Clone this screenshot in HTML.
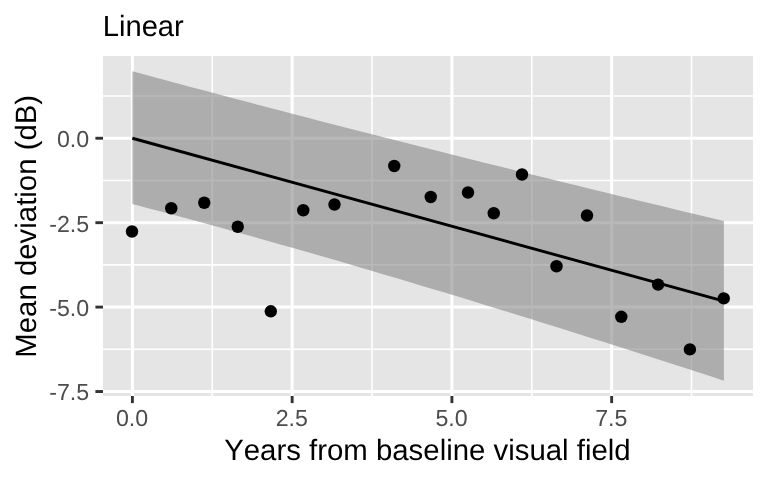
<!DOCTYPE html>
<html><head><meta charset="utf-8"><title>Linear</title>
<style>
html,body{margin:0;padding:0;background:#fff;}
body{width:768px;height:480px;overflow:hidden;font-family:"Liberation Sans",sans-serif;}
svg{display:block;will-change:transform;transform:translateZ(0);}
text{font-family:"Liberation Sans",sans-serif;font-kerning:none;font-feature-settings:"kern" 0,"liga" 0;text-rendering:geometricPrecision;}
.tk{font-size:23.2px;fill:#4d4d4d;}
.ttl{font-size:29.2px;fill:#000;}
.ax{font-size:29.38px;fill:#000;}
</style></head><body>
<svg width="768" height="480" viewBox="0 0 768 480">
<rect x="0" y="0" width="768" height="480" fill="#ffffff"/>
<rect x="103.0" y="56.0" width="650.0" height="340.0" fill="#e5e5e5"/>
<g stroke="#ffffff" fill="none">
<line x1="103.0" x2="753.0" y1="96.04" y2="96.04" stroke-width="1.6"/>
<line x1="103.0" x2="753.0" y1="180.46" y2="180.46" stroke-width="1.6"/>
<line x1="103.0" x2="753.0" y1="264.89" y2="264.89" stroke-width="1.6"/>
<line x1="103.0" x2="753.0" y1="349.31" y2="349.31" stroke-width="1.6"/>
<line y1="56.0" y2="396.0" x1="212.28" x2="212.28" stroke-width="1.6"/>
<line y1="56.0" y2="396.0" x1="372.02" x2="372.02" stroke-width="1.6"/>
<line y1="56.0" y2="396.0" x1="531.77" x2="531.77" stroke-width="1.6"/>
<line y1="56.0" y2="396.0" x1="691.52" x2="691.52" stroke-width="1.6"/>
<line x1="103.0" x2="753.0" y1="138.25" y2="138.25" stroke-width="3.0"/>
<line x1="103.0" x2="753.0" y1="222.68" y2="222.68" stroke-width="3.0"/>
<line x1="103.0" x2="753.0" y1="307.10" y2="307.10" stroke-width="3.0"/>
<line x1="103.0" x2="753.0" y1="391.53" y2="391.53" stroke-width="3.0"/>
<line y1="56.0" y2="396.0" x1="132.40" x2="132.40" stroke-width="3.0"/>
<line y1="56.0" y2="396.0" x1="292.15" x2="292.15" stroke-width="3.0"/>
<line y1="56.0" y2="396.0" x1="451.90" x2="451.90" stroke-width="3.0"/>
<line y1="56.0" y2="396.0" x1="611.65" x2="611.65" stroke-width="3.0"/>
</g>
<polygon points="132.40,71.28 147.19,75.28 161.97,79.26 176.76,83.22 191.55,87.18 206.34,91.11 221.12,95.04 235.91,98.95 250.70,102.85 265.49,106.73 280.27,110.60 295.06,114.46 309.85,118.30 324.64,122.13 339.43,125.95 354.21,129.75 369.00,133.54 383.79,137.32 398.58,141.08 413.36,144.84 428.15,148.58 442.94,152.30 457.73,156.02 472.51,159.72 487.30,163.42 502.09,167.10 516.88,170.76 531.66,174.42 546.45,178.07 561.24,181.70 576.02,185.33 590.81,188.94 605.60,192.54 620.39,196.14 635.17,199.72 649.96,203.29 664.75,206.85 679.54,210.40 694.32,213.95 709.11,217.48 723.90,221.01 723.90,380.66 709.11,375.85 694.32,371.06 679.54,366.28 664.75,361.51 649.96,356.76 635.17,352.02 620.39,347.30 605.60,342.60 590.81,337.91 576.02,333.24 561.24,328.59 546.45,323.96 531.66,319.35 516.88,314.75 502.09,310.18 487.30,305.63 472.51,301.10 457.73,296.59 442.94,292.10 428.15,287.64 413.36,283.20 398.58,278.78 383.79,274.39 369.00,270.03 354.21,265.69 339.43,261.37 324.64,257.09 309.85,252.83 295.06,248.60 280.27,244.39 265.49,240.22 250.70,236.07 235.91,231.96 221.12,227.87 206.34,223.81 191.55,219.78 176.76,215.79 161.97,211.82 147.19,207.88 132.40,203.98" fill="#848484" fill-opacity="0.58"/>
<line x1="132.40" y1="138.25" x2="723.90" y2="301.21" stroke="#000" stroke-width="2.9"/>
<g fill="#000">
<circle cx="132" cy="231.5" r="6.2"/>
<circle cx="171.25" cy="208.25" r="6.2"/>
<circle cx="204.25" cy="202.75" r="6.2"/>
<circle cx="237.75" cy="226.75" r="6.2"/>
<circle cx="270.8" cy="311.3" r="6.2"/>
<circle cx="303.25" cy="210.25" r="6.2"/>
<circle cx="334.5" cy="204.5" r="6.2"/>
<circle cx="394.25" cy="166" r="6.2"/>
<circle cx="430.75" cy="197" r="6.2"/>
<circle cx="468" cy="192.5" r="6.2"/>
<circle cx="493.75" cy="213.25" r="6.2"/>
<circle cx="522" cy="174.5" r="6.2"/>
<circle cx="556.5" cy="266.25" r="6.2"/>
<circle cx="587" cy="215.5" r="6.2"/>
<circle cx="621.3" cy="316.8" r="6.2"/>
<circle cx="658.1" cy="284.6" r="6.2"/>
<circle cx="689.9" cy="349.4" r="6.2"/>
<circle cx="723.75" cy="298.4" r="6.2"/>
</g>
<g stroke="#333333" stroke-width="2.9">
<line x1="95.4" x2="103.0" y1="138.25" y2="138.25"/>
<line x1="95.4" x2="103.0" y1="222.68" y2="222.68"/>
<line x1="95.4" x2="103.0" y1="307.10" y2="307.10"/>
<line x1="95.4" x2="103.0" y1="391.53" y2="391.53"/>
<line y1="396.0" y2="403.1" x1="132.40" x2="132.40"/>
<line y1="396.0" y2="403.1" x1="292.15" x2="292.15"/>
<line y1="396.0" y2="403.1" x1="451.90" x2="451.90"/>
<line y1="396.0" y2="403.1" x1="611.65" x2="611.65"/>
</g>
<text class="tk" text-anchor="end" x="89.2" y="146.55">0.0</text>
<text class="tk" text-anchor="end" x="89.2" y="232.40">-2.5</text>
<text class="tk" text-anchor="end" x="89.2" y="315.85">-5.0</text>
<text class="tk" text-anchor="end" x="89.2" y="400.00">-7.5</text>
<text class="tk" text-anchor="middle" x="132.00" y="425.6">0.0</text>
<text class="tk" text-anchor="middle" x="291.75" y="425.6">2.5</text>
<text class="tk" text-anchor="middle" x="451.50" y="425.6">5.0</text>
<text class="tk" text-anchor="middle" x="611.25" y="425.6">7.5</text>
<text class="ttl" x="102.7" y="35.8">Linear</text>
<text class="ax" text-anchor="middle" x="427.4" y="459.8">Years from baseline visual field</text>
<text class="ax" text-anchor="middle" transform="translate(36,226.3) rotate(-90)">Mean deviation (dB)</text>
</svg></body></html>
